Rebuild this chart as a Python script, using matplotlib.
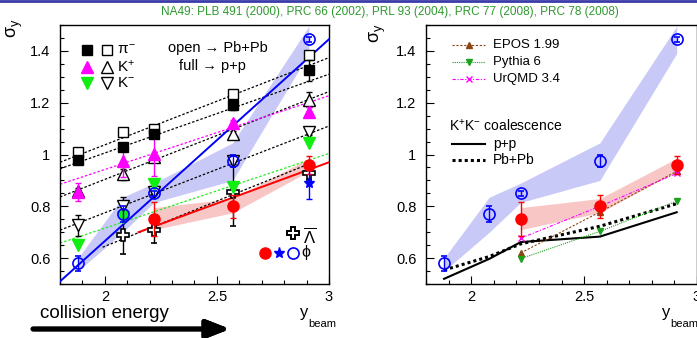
import numpy as np
import matplotlib.pyplot as plt
from matplotlib.lines import Line2D

plt.rcParams['font.family'] = ['Liberation Sans', 'DejaVu Sans']
plt.rcParams['mathtext.fontset'] = 'custom'
plt.rcParams['mathtext.rm'] = 'Liberation Sans'
plt.rcParams['mathtext.it'] = 'Liberation Sans'
plt.rcParams['mathtext.bf'] = 'Liberation Sans:bold'

# beam rapidities of the five SPS energies
ybeam = [1.88, 2.08, 2.22, 2.57, 2.91]

# pi- widths
pim_pbpb = [1.01, 1.085, 1.10, 1.235, 1.385]
pim_pp = [0.98, 1.03, 1.08, 1.19, 1.325]
pim_pp_err = [0.01, 0.01, 0.01, 0.02, 0.04]
# K+
kp_pbpb = [0.86, 0.923, 0.99, 1.081, 1.212]
kp_pbpb_err = [0.01, 0.02, 0.01, 0.01, 0.03]
kp_pp = [0.855, 0.973, 1.003, 1.123, 1.165]
kp_pp_err = [0.035, 0.06, 0.085, 0.01, 0.02]
# K-
km_pbpb = [0.727, 0.80, 0.855, 0.975, 1.085]
km_pbpb_err = [0.04, 0.035, 0.01, 0.01, 0.01]
km_pp = [0.65, 0.76, 0.885, 0.873, 1.045]
# anti-Lambda (Pb+Pb), last four energies
alam_y = [2.08, 2.22, 2.57, 2.91]
alam = [0.69, 0.71, 0.855, 0.93]
alam_err = [0.075, 0.05, 0.13, 0.03]
# phi
phi_pbpb = [0.58, 0.77, 0.85, 0.975, 1.445]
phi_pbpb_err = [0.03, 0.03, 0.01, 0.025, 0.01]
phi_pbpb_hi = [0.60, 0.835, 0.89, 1.045, 1.495]
phi_pbpb_lo = [0.55, 0.70, 0.815, 0.90, 1.39]
phi_pp_y = [2.22, 2.57, 2.91]
phi_pp = [0.75, 0.80, 0.958]
phi_pp_err = [0.065, 0.045, 0.035]
phi_pp_hi = [0.795, 0.83, 0.985]
phi_pp_lo = [0.71, 0.775, 0.935]
phi_ppb_y = [2.91]
phi_ppb = [0.89]
phi_ppb_err = [0.06]

# linear fits (value at y=1.8 and y=3.0)
fit_x = [1.8, 3.0]
fit_pim_pbpb = [0.97, 1.374]
fit_pim_pp = [0.945, 1.31]
fit_kp_pbpb = [0.836, 1.243]
fit_kp_pp = [0.885, 1.227]
fit_km_pbpb = [0.708, 1.11]
fit_km_pp = [0.658, 1.004]
fit_alam_x = [1.99, 2.9]
fit_alam = [0.642, 0.96]
fit_phi_pbpb = [0.51, 1.445]
fit_phi_pp_x = [2.15, 3.0]
fit_phi_pp = [0.70, 0.97]

# models (right panel)
model_y = [2.22, 2.57, 2.91]
epos = [0.62, 0.778, 0.935]
pythia = [0.598, 0.703, 0.82]
urqmd = [0.677, 0.80, 0.927]
coal_pp = [0.52, 0.597, 0.662, 0.683, 0.777]
coal_pbpb = [0.554, 0.606, 0.655, 0.723, 0.81]

fig = plt.figure(figsize=(6.97, 3.38), dpi=100)
axL = fig.add_axes([60/697, 54/338, 269/697, 259/338])
axR = fig.add_axes([426/697, 54/338, 271/697, 259/338])

for ax in (axL, axR):
    ax.set_xlim(1.8, 3.0)
    ax.set_ylim(0.5, 1.5)
    ax.set_xticks([2, 2.5, 3])
    ax.set_xticklabels(['2', '2.5', '3'])
    ax.set_yticks([0.6, 0.8, 1.0, 1.2, 1.4])
    ax.set_yticklabels(['0.6', '0.8', '1', '1.2', '1.4'])
    ax.set_xticks(np.arange(1.8, 3.01, 0.1), minor=True)
    ax.set_yticks(np.arange(0.5, 1.51, 0.05), minor=True)
    ax.tick_params(which='both', direction='in', top=False, right=False,
                   labelsize=10.5, colors='black')
    ax.tick_params(which='major', length=6, width=0.8)
    ax.tick_params(which='minor', length=3, width=0.8)
    ax.tick_params(axis='y', pad=7)
    ax.tick_params(axis='x', pad=4)
    for s in ax.spines.values():
        s.set_linewidth(1.0)
    # phi systematic bands
    ax.fill_between(ybeam, phi_pbpb_lo, phi_pbpb_hi, color='#c9c9f7', lw=0, zorder=1)
    ax.fill_between(phi_pp_y, phi_pp_lo, phi_pp_hi, color='#f9c6c6', lw=0, zorder=1)

# ---- left panel ----
ax = axL
for yv, c in [(fit_pim_pbpb, 'k'), (fit_pim_pp, 'k'), (fit_kp_pbpb, 'k'),
              (fit_kp_pp, 'magenta'), (fit_km_pbpb, 'k'), (fit_km_pp, '#22ee22')]:
    ax.plot(fit_x, yv, ls=(0, (2, 1.5)), color=c, lw=0.9, zorder=2)
ax.plot(fit_alam_x, fit_alam, ls=(0, (2, 1.5)), color='k', lw=0.9, zorder=2)
ax.plot(fit_x, fit_phi_pbpb, color='blue', lw=1.4, zorder=3)
ax.plot(fit_phi_pp_x, fit_phi_pp, color='red', lw=1.4, zorder=3)

ms = 7
ax.errorbar(ybeam, pim_pbpb, fmt='s', mfc='white', mec='k', ms=ms, zorder=4)
ax.errorbar(ybeam, pim_pp, yerr=pim_pp_err, fmt='s', color='k', ms=ms, capsize=2, elinewidth=1, zorder=5)
ax.errorbar(ybeam, kp_pbpb, yerr=kp_pbpb_err, fmt='^', mfc='white', mec='k', ecolor='k', ms=ms + 1, capsize=2, elinewidth=1, zorder=4)
ax.errorbar(ybeam, kp_pp, yerr=kp_pp_err, fmt='^', color='magenta', ms=ms + 1, capsize=2, elinewidth=1, zorder=5)
ax.errorbar(ybeam, km_pbpb, yerr=km_pbpb_err, fmt='v', mfc='white', mec='k', ecolor='k', ms=ms + 1, capsize=2, elinewidth=1, zorder=4)
ax.errorbar(ybeam, km_pp, fmt='v', color='#11ee11', ms=ms + 1, zorder=5)
ax.errorbar(alam_y, alam, yerr=alam_err, fmt='P', mfc='white', mec='k', ecolor='k', mew=1.2, ms=ms + 2, capsize=2, elinewidth=1, zorder=4)
ax.errorbar(ybeam, phi_pbpb, yerr=phi_pbpb_err, fmt='o', mfc='none', mec='blue', ecolor='blue', mew=1.2, ms=ms + 1, capsize=2, elinewidth=1, zorder=6)
ax.errorbar(phi_pp_y, phi_pp, yerr=phi_pp_err, fmt='o', color='red', ms=ms + 1, capsize=2, elinewidth=1, zorder=6)
ax.errorbar(phi_ppb_y, phi_ppb, yerr=phi_ppb_err, fmt='*', color='blue', ms=ms + 1, capsize=2, elinewidth=1, zorder=6)

T = ax.transAxes
def sym(a, x, y, **kw):
    a.plot([x], [y], transform=a.transAxes, clip_on=False, ls='none', **kw)

sym(ax, 0.100, 0.903, marker='s', color='k', ms=ms)
sym(ax, 0.175, 0.903, marker='s', mfc='white', mec='k', ms=ms)
ax.text(0.212, 0.903, r'$\pi^{-}$', transform=T, fontsize=11, va='center')
sym(ax, 0.100, 0.838, marker='^', color='magenta', ms=ms + 1)
sym(ax, 0.175, 0.838, marker='^', mfc='white', mec='k', ms=ms + 1)
ax.text(0.212, 0.838, r'$\mathrm{K}^{+}$', transform=T, fontsize=11, va='center')
sym(ax, 0.100, 0.776, marker='v', color='#11ee11', ms=ms + 1)
sym(ax, 0.175, 0.776, marker='v', mfc='white', mec='k', ms=ms + 1)
ax.text(0.212, 0.776, r'$\mathrm{K}^{-}$', transform=T, fontsize=11, va='center')
ax.text(0.587, 0.911, 'open \u2192 Pb+Pb', transform=T, fontsize=10.5, ha='center', va='center')
ax.text(0.565, 0.842, 'full \u2192 p+p', transform=T, fontsize=10.5, ha='center', va='center')

sym(ax, 0.866, 0.197, marker='P', mfc='white', mec='k', mew=1.4, ms=ms + 2)
ax.text(0.926, 0.185, r'$\overline{\Lambda}$', transform=T, fontsize=12, ha='center', va='center')
sym(ax, 0.762, 0.120, marker='o', color='red', ms=ms + 1)
sym(ax, 0.814, 0.120, marker='*', color='blue', ms=ms + 1)
sym(ax, 0.866, 0.120, marker='o', mfc='none', mec='blue', mew=1.2, ms=ms + 1)
ax.text(0.914, 0.120, '\u03d5', transform=T, fontsize=11.5, ha='center', va='center')

# ---- right panel ----
ax = axR
ax.plot(ybeam, coal_pp, color='k', lw=1.5, zorder=3)
ax.plot(ybeam, coal_pbpb, color='k', lw=2.2, ls=(0, (1, 1)), zorder=3)
ax.plot(model_y, epos, color='#8b4513', lw=0.8, ls=(0, (2, 1.5)), marker='^', ms=4, zorder=4)
ax.plot(model_y, pythia, color='#1f9f1f', lw=0.8, ls=(0, (1, 1)), marker='v', ms=4, zorder=4)
ax.plot(model_y, urqmd, color='magenta', lw=0.8, ls=(0, (3, 1.5, 1, 1.5)), marker='x', ms=5, zorder=4)
ax.errorbar(ybeam, phi_pbpb, yerr=phi_pbpb_err, fmt='o', mfc='none', mec='blue', ecolor='blue', mew=1.2, ms=ms + 1, capsize=2, elinewidth=1, zorder=6)
ax.errorbar(phi_pp_y, phi_pp, yerr=phi_pp_err, fmt='o', color='red', ms=ms + 1, capsize=2, elinewidth=1, zorder=5)

T = ax.transAxes
lx = [0.096, 0.218]
for y, c, ls, m, lab in [(0.923, '#8b4513', (0, (2, 1.5)), '^', 'EPOS 1.99'),
                         (0.857, '#1f9f1f', (0, (1, 1)), 'v', 'Pythia 6'),
                         (0.792, 'magenta', (0, (3, 1.5, 1, 1.5)), 'x', 'UrQMD 3.4')]:
    ax.plot(lx, [y, y], transform=T, color=c, lw=0.8, ls=ls, clip_on=False)
    sym(ax, sum(lx) / 2, y, marker=m, color=c, ms=4 if m != 'x' else 5)
    ax.text(0.247, y, lab, transform=T, fontsize=9.5, va='center')
ax.text(0.085, 0.61, r'$\mathrm{K}^{+}\mathrm{K}^{-}$ coalescence', transform=T, fontsize=10, va='center')
ax.plot(lx, [0.541, 0.541], transform=T, color='k', lw=1.5, clip_on=False)
ax.text(0.247, 0.541, 'p+p', transform=T, fontsize=10, va='center')
ax.plot(lx, [0.479, 0.479], transform=T, color='k', lw=2.2, ls=(0, (1, 1)), clip_on=False)
ax.text(0.247, 0.479, 'Pb+Pb', transform=T, fontsize=10, va='center')

# axis titles
for xs, yb in [(15 / 697, 28 / 338), (378 / 697, 33 / 338)]:
    fig.text(xs, 1 - yb, r'$\sigma_{y}$', rotation=90, fontsize=13, ha='center', va='center')
for xs in (300 / 697, 662 / 697):
    fig.text(xs, 1 - 312 / 338, 'y', fontsize=12, ha='left', va='center')
    fig.text(xs + 8 / 697, 1 - 324 / 338, 'beam', fontsize=8, ha='left', va='center')

fig.text(40 / 697, 1 - 313 / 338, 'collision energy', fontsize=13.5, ha='left', va='center')
fig.add_artist(plt.annotate('', xy=(230 / 697, 1 - 329 / 338), xytext=(33 / 697, 1 - 329 / 338),
                            xycoords='figure fraction',
                            arrowprops=dict(arrowstyle='-|>,head_length=1.4,head_width=0.55',
                                            lw=3.5, color='black', shrinkA=0, shrinkB=0)))

fig.text(390 / 697, 1 - 12 / 338,
         'NA49: PLB 491 (2000), PRC 66 (2002), PRL 93 (2004), PRC 77 (2008), PRC 78 (2008)',
         fontsize=8.5, color='#2e9a2e', ha='center', va='center')
fig.add_artist(Line2D([0, 1], [0.997, 0.997], color='#3a3aa8', lw=2, transform=fig.transFigure))

fig.savefig('out.png', dpi=100)
